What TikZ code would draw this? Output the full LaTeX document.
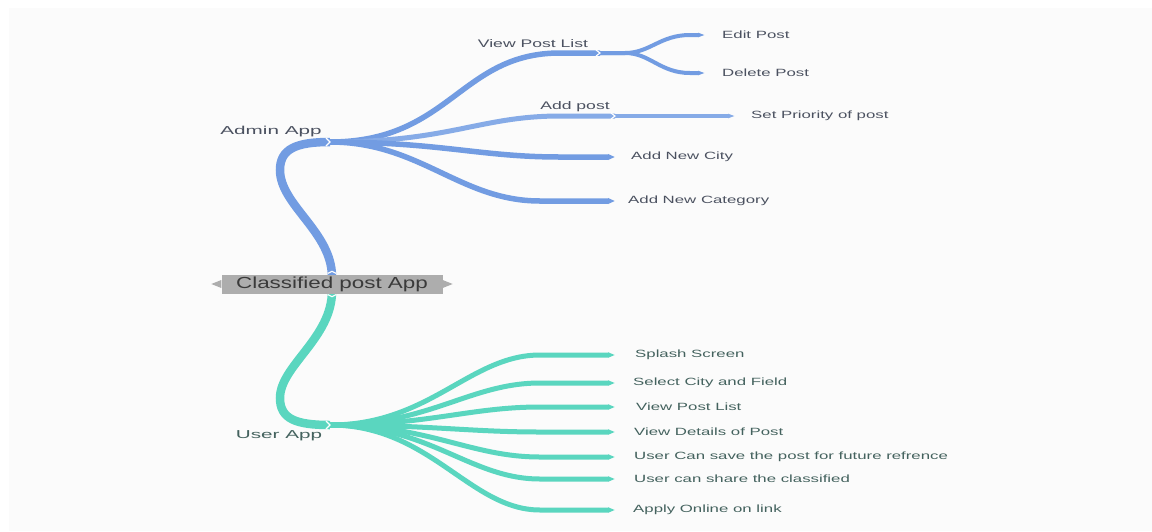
\documentclass[tikz,border=0pt]{standalone}
\usepackage{fontspec}
\setmainfont{Liberation Sans}
\newfontfamily\lblfont{Liberation Sans}[FakeStretch=1.6]
\newfontfamily\midfont{Liberation Sans}[FakeStretch=1.8]
\newfontfamily\rootfont{Liberation Sans}[FakeStretch=1.4]
\usetikzlibrary{arrows.meta}
\pgfdeclarelayer{back}
\pgfdeclarelayer{lines}
\pgfsetlayers{back,lines,main}
\definecolor{bgc}{HTML}{FBFBFB}
\definecolor{ablue}{HTML}{729CE2}
\definecolor{ablue2}{HTML}{86ABE7}
\definecolor{uteal}{HTML}{5AD6BF}
\definecolor{atext}{HTML}{4B5160}
\definecolor{utext}{HTML}{44625E}
\definecolor{boxgray}{HTML}{ADADAD}
\definecolor{roottext}{HTML}{3A3A3A}
\tikzset{
  alab/.style={font=\lblfont\fontsize{10.5}{12}\selectfont, text=atext, inner ysep=0pt, inner xsep=16pt, anchor=west},
  ulab/.style={font=\lblfont\fontsize{10.5}{12}\selectfont, text=utext, inner ysep=0pt, inner xsep=19pt, anchor=west},
  alabtop/.style={font=\lblfont\fontsize{11}{13}\selectfont, text=atext, inner sep=0pt},
  mainlab/.style={font=\midfont\fontsize{11.5}{13}\selectfont, inner sep=0pt},
  rootbox/.style={fill=boxgray, text=roottext, font=\rootfont\fontsize{16}{18}\selectfont, minimum width=221pt, minimum height=19pt, inner sep=0pt},
  tipend/.style={-{Triangle[length=7pt,width=0pt 1]}},
  atrunk/.style={draw=ablue, line width=8.5pt},
  utrunk/.style={draw=uteal, line width=8.5pt},
  abr/.style={draw=ablue, line width=5.5pt},
  abrl/.style={draw=ablue2, line width=5pt},
  abr2/.style={draw=ablue, line width=4pt, tipend},
  ubr/.style={draw=uteal, line width=5pt, tipend},
  notch/.style={draw=white, line width=1.1pt},
}
\begin{document}
\begin{tikzpicture}[x=1pt,y=-1pt]
\useasboundingbox (0,0) rectangle (1152,531);
\begin{pgfonlayer}{back}
\fill[white] (0,0) rectangle (1152,531);
\fill[bgc] (9,8) rectangle (1152,531);
\end{pgfonlayer}

% junction points
\coordinate (rt) at (332,277);
\coordinate (rb) at (332,291);
\coordinate (A) at (330,142);
\coordinate (U) at (330,425);
\coordinate (V) at (600,53);
\coordinate (P) at (615,116);

% root
\node[rootbox] (root) at (332,284) {Classified post App};
\fill[boxgray] ([yshift=4pt]root.west) -- ++(-10,4) -- ++(10,4) -- cycle;
\fill[boxgray] ([yshift=4pt]root.east) -- ++(10,4) -- ++(-10,4) -- cycle;

% main labels
\node[mainlab, text=atext] (admin) at (271,132) {Admin App};
\node[mainlab, text=utext] (user) at (279,436) {User App};

% admin labels
\node[alabtop] (vpl) at (533,44) {View Post List};
\node[alabtop] (ap) at (575,107) {Add post};
\node[alab, inner xsep=17pt] (ep) at (705,35) {Edit Post};
\node[alab, inner xsep=17pt] (dp) at (705,73) {Delete Post};
\node[alab] (sp) at (735,116) {Set Priority of post};
\node[alab] (nc) at (615,157) {Add New City};
\node[alab, inner xsep=13pt] (ncat) at (615,201) {Add New Category};

% user labels
\node[ulab, inner xsep=20pt] (u1) at (615,355) {Splash Screen};
\node[ulab, inner xsep=18pt] (u2) at (615,383) {Select City and Field};
\node[ulab, inner xsep=21pt] (u3) at (615,407) {View Post List};
\node[ulab] (u4) at (615,432) {View Details of Post};
\node[ulab] (u5) at (615,457) {User Can save the post for future refrence};
\node[ulab] (u6) at (615,479) {User can share the classified};
\node[ulab, inner xsep=18pt] (u7) at (615,510) {Apply Online on link};

\begin{pgfonlayer}{lines}
% trunks
\draw[atrunk] (rt) .. controls (332,232) and (280,205) .. (280,170) .. controls (280,149) and (296,142) .. (A);
\draw[utrunk] (rb) .. controls (332,338) and (280,366) .. (280,398) .. controls (280,419) and (296,425) .. (U);

% admin branches
\draw[abr] (A) .. controls +(120,0) and +(-100,0) .. ([xshift=-40pt]V) -- (V);
\draw[abr2] (V) -- ++(25,0) .. controls +(25,0) and +(-30,0) .. ([xshift=-15pt]ep.west) -- (ep.west);
\draw[abr2] (V) -- ++(25,0) .. controls +(25,0) and +(-30,0) .. ([xshift=-15pt]dp.west) -- (dp.west);
\draw[abrl] (A) .. controls +(120,0) and +(-80,0) .. ([xshift=-55pt]P) -- (P);
\draw[abrl, line width=4pt, tipend] (P) -- (sp.west);
\draw[abr, tipend] (A) .. controls +(110,0) and +(-80,0) .. ([xshift=-55pt]nc.west) -- (nc.west);
\draw[abr, tipend] (A) .. controls +(90,0) and +(-80,0) .. ([xshift=-75pt]ncat.west) -- (ncat.west);

% user branches
\draw[ubr] (U) .. controls +(100,0) and +(-70,0) .. ([xshift=-75pt]u1.west) -- (u1.west);
\draw[ubr] (U) .. controls +(100,0) and +(-70,0) .. ([xshift=-75pt]u2.west) -- (u2.west);
\draw[ubr] (U) .. controls +(100,0) and +(-70,0) .. ([xshift=-75pt]u3.west) -- (u3.west);
\draw[ubr] (U) .. controls +(100,0) and +(-70,0) .. ([xshift=-75pt]u4.west) -- (u4.west);
\draw[ubr] (U) .. controls +(100,0) and +(-70,0) .. ([xshift=-75pt]u5.west) -- (u5.west);
\draw[ubr] (U) .. controls +(100,0) and +(-70,0) .. ([xshift=-75pt]u6.west) -- (u6.west);
\draw[ubr] (U) .. controls +(100,0) and +(-70,0) .. ([xshift=-75pt]u7.west) -- (u7.west);
\end{pgfonlayer}

% white notches at junctions
\draw[notch] ([shift={(-4,-4)}]A) -- (A) -- ([shift={(-4,4)}]A);
\draw[notch] ([shift={(-4,-4)}]U) -- (U) -- ([shift={(-4,4)}]U);
\draw[notch] ([shift={(-4,-3)}]V) -- (V) -- ([shift={(-4,3)}]V);
\draw[notch] ([shift={(-4,-3)}]P) -- (P) -- ([shift={(-4,3)}]P);
\draw[notch] ([shift={(-4,-1)}]root.north) -- ([yshift=3pt]root.north) -- ([shift={(4,-1)}]root.north);
\draw[notch] ([shift={(-4,1)}]root.south) -- ([yshift=-3pt]root.south) -- ([shift={(4,1)}]root.south);
\end{tikzpicture}
\end{document}
